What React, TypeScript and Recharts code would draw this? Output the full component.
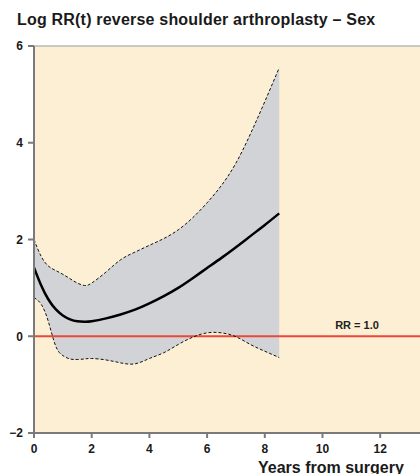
import {
  ComposedChart,
  Area,
  Line,
  XAxis,
  YAxis,
  CartesianGrid,
  ReferenceLine,
} from 'recharts';

const years = [0, 0.25, 0.5, 0.75, 1, 1.25, 1.5, 1.75, 2, 2.5, 3, 3.5, 4, 4.5, 5, 5.5, 6, 6.5, 7, 7.5, 8, 8.5];
const logRR = [1.42, 1.05, 0.76, 0.56, 0.43, 0.35, 0.31, 0.3, 0.31, 0.37, 0.45, 0.55, 0.68, 0.83, 1.0, 1.2, 1.41, 1.62, 1.84, 2.07, 2.3, 2.54];
const upper = [2.0, 1.65, 1.45, 1.36, 1.28, 1.19, 1.1, 1.05, 1.1, 1.33, 1.58, 1.74, 1.88, 2.02, 2.2, 2.45, 2.76, 3.12, 3.58, 4.18, 4.85, 5.55];
const lower = [0.8, 0.66, 0.3, -0.2, -0.4, -0.47, -0.48, -0.47, -0.46, -0.49, -0.55, -0.57, -0.46, -0.34, -0.17, -0.02, 0.07, 0.07, -0.01, -0.17, -0.31, -0.44];

const xTicks = [0, 2, 4, 6, 8, 10, 12];
const yTicks = [-2, 0, 2, 4, 6];

const font = '"Liberation Sans", Arial, sans-serif';

const chartData = years.map((t, i) => ({
  t,
  est: logRR[i],
  lo: lower[i],
  hi: upper[i],
  band: [lower[i], upper[i]],
}));

function RRLabel({ viewBox }: { viewBox?: { x: number; y: number; width: number } }) {
  if (!viewBox) return null;
  return (
    <text
      x={357}
      y={viewBox.y - 7}
      textAnchor="middle"
      fontSize={11}
      fontWeight={700}
      fontFamily={font}
      fill="#222"
    >
      RR = 1.0
    </text>
  );
}

export default function App() {
  return (
    <div style={{ position: 'absolute', left: 0, top: 0, width: 420, height: 474, background: '#fff', overflow: 'hidden' }}>
      <div
        style={{
          position: 'absolute',
          left: 17,
          top: 11,
          fontFamily: font,
          fontWeight: 700,
          fontSize: 16,
          letterSpacing: 0.2,
          color: '#1a1a1a',
          whiteSpace: 'nowrap',
        }}
      >
        Log RR(t) reverse shoulder arthroplasty – Sex
      </div>
      <ComposedChart
        width={420}
        height={474}
        data={chartData}
        margin={{ top: 46, right: 0, left: 0, bottom: 11 }}
      >
        <CartesianGrid fill="#FDEFD3" horizontal={false} vertical={false} />
        <ReferenceLine y={6} stroke="#999" strokeWidth={1} />
        <XAxis
          dataKey="t"
          type="number"
          domain={[0, 13.38]}
          ticks={xTicks}
          allowDataOverflow
          height={30}
          stroke="#7a7a7a"
          strokeWidth={2}
          tickSize={5}
          tickMargin={6}
          tick={{ fontSize: 12, fontWeight: 700, fill: '#1a1a1a', fontFamily: font }}
          label={{
            value: 'Years from surgery',
            content: () => (
              <text x={258} y={473} fontSize={16} fontWeight={700} fontFamily={font} fill="#1a1a1a">
                Years from surgery
              </text>
            ),
          }}
        />
        <YAxis
          type="number"
          domain={[-2, 6]}
          ticks={yTicks}
          width={34}
          stroke="#7a7a7a"
          strokeWidth={2}
          tickSize={6}
          tickMargin={5}
          tickFormatter={(v) => (v < 0 ? `\u2212${Math.abs(v)}` : `${v}`)}
          tick={{ fontSize: 12, fontWeight: 700, fill: '#1a1a1a', fontFamily: font }}
        />
        <Area
          dataKey="band"
          type="natural"
          fill="#D1D3D6"
          fillOpacity={1}
          stroke="none"
          isAnimationActive={false}
        />
        <ReferenceLine y={0} stroke="#E9483B" strokeWidth={2} label={<RRLabel />} />
        <Line dataKey="hi" type="natural" stroke="#111" strokeWidth={1} strokeDasharray="3 2" dot={false} isAnimationActive={false} />
        <Line dataKey="lo" type="natural" stroke="#111" strokeWidth={1} strokeDasharray="3 2" dot={false} isAnimationActive={false} />
        <Line dataKey="est" type="natural" stroke="#000" strokeWidth={2.5} dot={false} isAnimationActive={false} />
      </ComposedChart>
    </div>
  );
}
